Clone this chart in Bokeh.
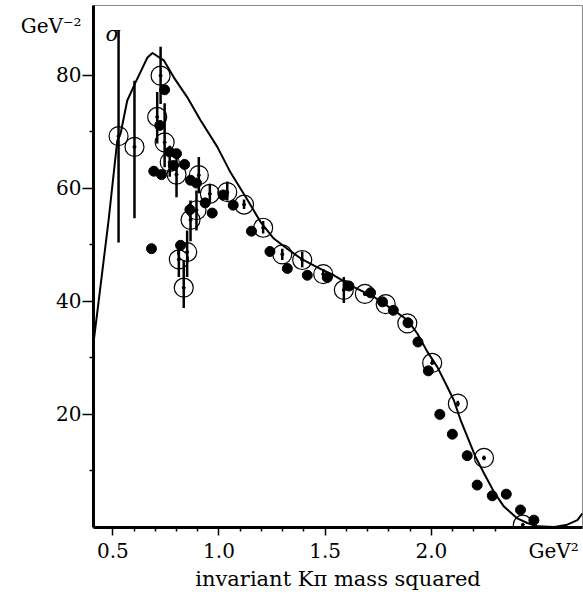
from bokeh.plotting import figure
from bokeh.models import FixedTicker, Label, Range1d, PrintfTickFormatter, LinearAxis
from bokeh.embed import file_html
from bokeh.resources import INLINE

# ---- data ----
curve_x = [0.409, 0.48, 0.521, 0.537, 0.568, 0.607, 0.663, 0.687, 0.74, 0.787, 0.85,
           0.913, 0.992, 1.054, 1.133, 1.196, 1.258, 1.321, 1.384, 1.463, 1.541, 1.635,
           1.729, 1.824, 1.887, 1.934, 1.981, 2.028, 2.075, 2.106, 2.138, 2.169, 2.208,
           2.248, 2.295, 2.342, 2.405, 2.452, 2.5, 2.58, 2.64, 2.688, 2.712]
curve_y = [32.6, 54.3, 68.4, 69.7, 75.5, 78.7, 83.1, 83.9, 82.6, 79.6, 76.1,
           72.0, 67.3, 62.8, 58.0, 54.0, 51.1, 49.3, 47.6, 46.0, 44.6, 42.5,
           40.8, 38.4, 36.7, 34.3, 31.1, 28.4, 24.9, 22.5, 19.0, 16.1, 12.5,
           9.6, 6.3, 3.7, 1.6, 0.8, 0.2, 0.1, 0.5, 1.3, 2.5]

open_x = [0.527, 0.602, 0.725, 0.709, 0.744, 0.768, 0.800, 0.866, 0.894, 0.905,
          0.850, 0.811, 0.834, 0.957, 1.039, 1.118, 1.208, 1.298, 1.392, 1.491,
          1.588, 1.687, 1.785, 1.887, 2.004, 2.125, 2.248, 2.431]
open_y = [69.2, 67.3, 79.9, 72.6, 68.1, 64.6, 62.4, 54.4, 56.1, 62.3,
          48.7, 47.4, 42.4, 59.0, 59.3, 57.1, 53.0, 48.3, 47.3, 44.8,
          42.0, 41.3, 39.5, 36.1, 29.1, 21.9, 12.3, 0.5]
open_lo = [50.4, 54.7, 74.9, 67.9, 63.7, 62.0, 58.4, 50.6, 52.5, 59.1,
           44.3, 44.3, 38.8, 57.5, 57.8, 56.3, 52.0, 47.3, 46.0, 44.2,
           39.7, 41.0, 39.2, 35.8, 28.8, 21.4, 11.9, 0.5]
open_hi = [87.9, 79.0, 85.0, 77.0, 75.0, 67.5, 66.7, 57.8, 59.6, 65.5,
           52.5, 49.6, 47.3, 60.8, 61.2, 58.0, 54.2, 49.3, 48.8, 45.7,
           44.3, 41.6, 39.8, 36.4, 29.6, 22.4, 12.7, 0.5]

filled_x = [0.682, 0.693, 0.721, 0.729, 0.744, 0.768, 0.800, 0.785, 0.838, 0.819,
            0.866, 0.894, 0.863, 0.935, 0.968, 1.020, 1.067, 1.153, 1.240, 1.322,
            1.416, 1.510, 1.612, 1.714, 1.770, 1.821, 1.890, 1.937, 1.986, 2.040,
            2.099, 2.169, 2.216, 2.287, 2.353, 2.420, 2.483]
filled_y = [49.3, 63.0, 71.1, 62.4, 77.4, 66.4, 66.1, 64.0, 64.2, 49.9,
            61.4, 60.9, 56.2, 57.4, 55.6, 58.8, 57.0, 52.4, 48.8, 45.8,
            44.6, 44.2, 42.7, 41.5, 39.9, 38.4, 36.2, 32.8, 27.7, 20.0,
            16.5, 12.7, 7.5, 5.6, 5.9, 3.1, 1.3]

x_major = [0.5, 1.0, 1.5, 2.0]
x_minor = [0.6, 0.7, 0.8, 0.9, 1.1, 1.2, 1.3, 1.4, 1.6, 1.7, 1.8, 1.9, 2.1, 2.2, 2.3]
x_unit_pos = 2.576
x_unit_text = "GeV\u00b2"
y_major = [20, 40, 60, 80]
y_minor = [10, 30, 50, 70]
y_unit_pos = 88.6
y_unit_text = "GeV\u207b\u00b2"

FONT = "DejaVu Serif"

p = figure(width=583, height=595, x_range=Range1d(0.409, 2.712), y_range=Range1d(0, 92.3),
           output_backend="svg", toolbar_location=None,
           min_border_left=93, min_border_right=1, min_border_top=5, min_border_bottom=68)
p.grid.visible = False
p.background_fill_color = "white"
p.border_fill_color = "white"
p.outline_line_color = "#888888"
p.outline_line_width = 1

# axis A (next to the frame): line + ticks, labels not drawn
xa = p.xaxis[0]
xa.ticker = FixedTicker(ticks=x_major, minor_ticks=x_minor)
ya = p.yaxis[0]
ya.ticker = FixedTicker(ticks=y_major, minor_ticks=y_minor)
for ax in (xa, ya):
    ax.axis_line_color = "black"
    ax.axis_line_width = 3
    ax.major_tick_line_color = "black"
    ax.minor_tick_line_color = "black"
    ax.major_tick_line_width = 1.5
    ax.minor_tick_line_width = 1.5
    ax.major_tick_in = 0
    ax.minor_tick_in = 0
    ax.minor_tick_out = 4
    ax.major_label_text_color = None
    ax.major_label_text_font_size = "1px"
    ax.major_label_standoff = 0
xa.major_tick_out = 8
ya.major_tick_out = 11

# axis B (outer): labels only
xb = LinearAxis(ticker=FixedTicker(ticks=x_major + [x_unit_pos], minor_ticks=[]),
                formatter=PrintfTickFormatter(format="%.1f"))
xb.major_label_overrides = {x_unit_pos: x_unit_text}
yb = LinearAxis(ticker=FixedTicker(ticks=y_major + [y_unit_pos], minor_ticks=[]),
                formatter=PrintfTickFormatter(format="%d"))
yb.major_label_overrides = {y_unit_pos: y_unit_text}
for ax in (xb, yb):
    ax.axis_line_color = None
    ax.major_tick_line_color = None
    ax.minor_tick_line_color = None
    ax.major_tick_out = 0
    ax.major_tick_in = 0
    ax.minor_tick_out = 0
    ax.minor_tick_in = 0
    ax.major_label_text_font = FONT
    ax.major_label_text_font_size = "20px"
    ax.major_label_text_color = "black"
xb.major_label_standoff = 3
yb.major_label_standoff = 1
xb.axis_label = "invariant K\u03c0 mass squared"
xb.axis_label_text_font = FONT
xb.axis_label_text_font_style = "normal"
xb.axis_label_text_font_size = "21px"
xb.axis_label_text_color = "black"
xb.axis_label_standoff = 1
p.add_layout(xb, "below")
p.add_layout(yb, "left")

p.line(curve_x, curve_y, line_color="black", line_width=2, line_join="round")
p.segment(x0=open_x, y0=open_lo, x1=open_x, y1=open_hi, line_color="black", line_width=2.5)
p.scatter(open_x, open_y, marker="circle", size=19, fill_color=None,
          line_color="black", line_width=1.2)
p.scatter(open_x, open_y, marker="circle", size=3, fill_color="black", line_color="black")
p.scatter(filled_x, filled_y, marker="circle", size=10, fill_color="black", line_color="black")

p.add_layout(Label(x=0.466, y=87.3, text="\u03c3", text_font=FONT, text_font_size="21px",
                   text_font_style="italic", text_baseline="alphabetic", text_color="black"))

open("out.html", "w").write(file_html(p, INLINE))
